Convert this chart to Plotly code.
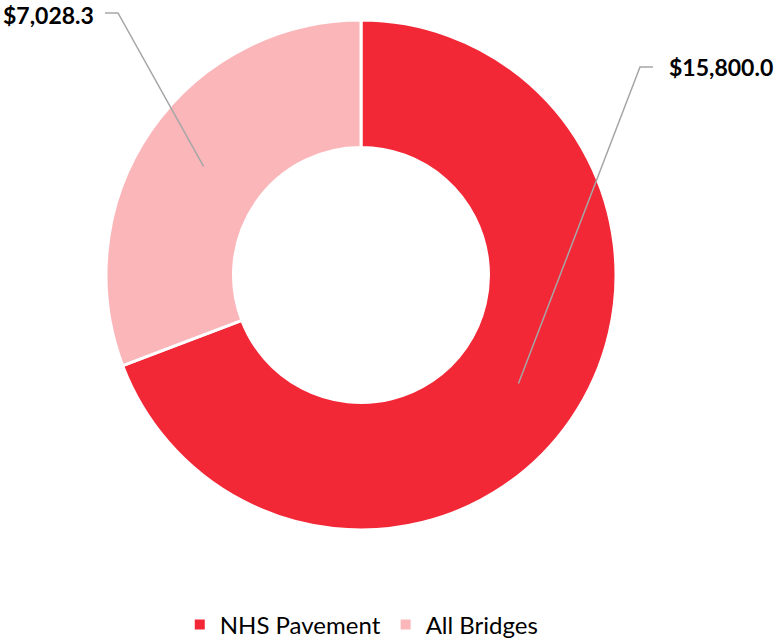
import math
import plotly.graph_objects as go

# Spending by asset class
categories = ["NHS Pavement", "All Bridges"]
values = [15800.0, 7028.3]
colors = ["#F22837", "#FBB6BA"]

W, H = 778, 640
CX, CY, R = 361, 275, 255      # donut centre and outer radius (px)
HOLE = 0.5

# label elbow/end/text positions (px) for each slice
label_layout = [
    {"elbow": (640, 67), "end": (653, 67), "text": (667, 67), "anchor": "left"},
    {"elbow": (118, 13), "end": (105, 13), "text": (96, 15), "anchor": "right"},
]


def px(x, y):
    return x / W, 1 - y / H


fig = go.Figure(
    go.Pie(
        labels=categories,
        values=values,
        hole=HOLE,
        sort=False,
        direction="clockwise",
        rotation=0,
        marker=dict(colors=colors, line=dict(color="white", width=3)),
        textinfo="none",
        hoverinfo="label+value",
        domain=dict(x=[(CX - R) / W, (CX + R) / W], y=[(H - CY - R) / H, (H - CY + R) / H]),
    )
)

total = sum(values)
r_mid = R * (1 + HOLE) / 2
start = 0.0
shapes, annotations = [], []
for v, lay in zip(values, label_layout):
    frac = v / total
    mid = (start + frac / 2) * 2 * math.pi
    start += frac
    ax = CX + r_mid * math.sin(mid)
    ay = CY - r_mid * math.cos(mid)
    p0 = px(ax, ay)
    p1 = px(*lay["elbow"])
    p2 = px(*lay["end"])
    shapes.append(dict(
        type="path", xref="paper", yref="paper",
        path=f"M {p0[0]},{p0[1]} L {p1[0]},{p1[1]} L {p2[0]},{p2[1]}",
        line=dict(color="#A6A6A6", width=1.5),
    ))
    tx, ty = px(*lay["text"])
    annotations.append(dict(
        x=tx, y=ty, xref="paper", yref="paper",
        text=f"<b>${v:,.1f}</b>", showarrow=False,
        xanchor=lay["anchor"], yanchor="middle",
        font=dict(family="Lato", size=23, color="#000000"),
    ))

fig.update_layout(
    width=W, height=H,
    margin=dict(l=0, r=0, t=0, b=0, autoexpand=False),
    paper_bgcolor="white",
    plot_bgcolor="white",
    shapes=shapes,
    annotations=annotations,
    showlegend=True,
    legend=dict(
        orientation="h", x=0.465, xanchor="center", y=1 - 625 / H, yanchor="middle",
        font=dict(family="Lato", size=24, color="#000000"),
        itemsizing="constant",
    ),
)

fig.write_html("out.html")
